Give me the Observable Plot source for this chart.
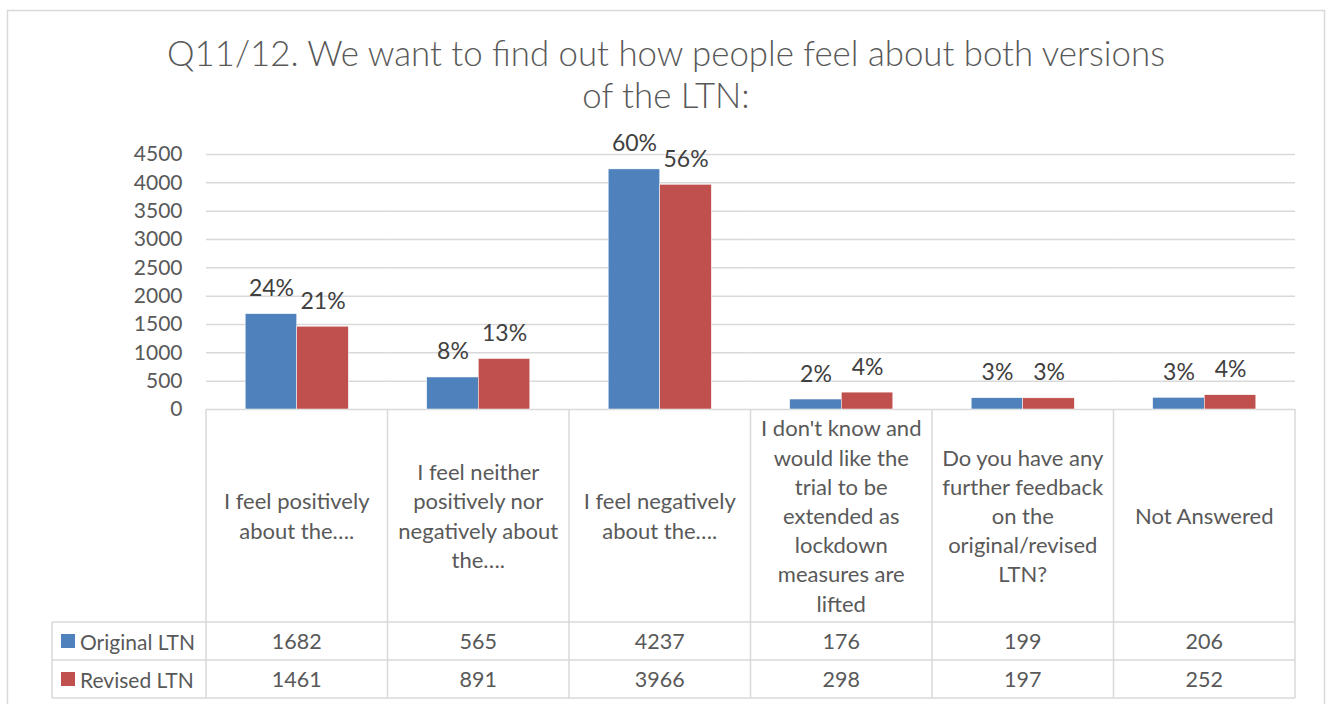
<!DOCTYPE html>
<html><head><meta charset="utf-8">
<script src="https://cdn.jsdelivr.net/npm/d3@7"></script>
<script src="https://cdn.jsdelivr.net/npm/@observablehq/plot@0.6"></script>
<style>
body{margin:0;background:#fff;}
#chart{position:relative;width:1327px;height:704px;}
</style></head><body><div id="chart"></div>
<script>
const titleLines = ["Q11/12. We want to find out how people feel about both versions", "of the LTN:"];
const categories = [
  "I feel positively about the….",
  "I feel neither positively nor negatively about the….",
  "I feel negatively about the….",
  "I don't know and would like the trial to be extended as lockdown measures are lifted",
  "Do you have any further feedback on the original/revised LTN?",
  "Not Answered"
];
const categoryLines = [
  ["I feel positively", "about the…."],
  ["I feel neither", "positively nor", "negatively about", "the…."],
  ["I feel negatively", "about the…."],
  ["I don't know and", "would like the", "trial to be", "extended as", "lockdown", "measures are", "lifted"],
  ["Do you have any", "further feedback", "on the", "original/revised", "LTN?"],
  ["Not Answered"]
];
const series = ["Original LTN", "Revised LTN"];
const originalValues = [1682, 565, 4237, 176, 199, 206];
const revisedValues = [1461, 891, 3966, 298, 197, 252];
const originalPct = ["24%", "8%", "60%", "2%", "3%", "3%"];
const revisedPct = ["21%", "13%", "56%", "4%", "3%", "4%"];
const yTicks = [0, 500, 1000, 1500, 2000, 2500, 3000, 3500, 4000, 4500];
const colors = ["#4F81BD", "#C0504D"];

const data = [];
categories.forEach((c, i) => {
  data.push({category: c, series: series[0], value: originalValues[i], pct: originalPct[i]});
  data.push({category: c, series: series[1], value: revisedValues[i], pct: revisedPct[i]});
});

const FONT = "Lato";
const TXT = "#595959";
const GRID = "#d9d9d9";

const plot = Plot.plot({
  width: 1327, height: 704,
  marginLeft: 206, marginRight: 32, marginTop: 154, marginBottom: 295,
  style: {fontFamily: FONT, background: "transparent", color: TXT},
  fx: {domain: categories, padding: 0, round: false, axis: null, label: null},
  x: {domain: series, paddingInner: 0, paddingOuter: 0.76, round: false, axis: null, label: null},
  y: {domain: [0, 4500], axis: null},
  color: {domain: series, range: colors},
  marks: [
    Plot.ruleY(yTicks, {stroke: GRID, strokeWidth: 1.5, strokeOpacity: 1}),
    Plot.barY(data, {fx: "category", x: "series", y: "value", fill: "series", stroke: "#ffffff", strokeWidth: 0.5}),
    Plot.text(data, {fx: "category", x: "series", y: "value", text: "pct", lineAnchor: "bottom", dy: -18, fontSize: 23, fill: "#404040"}),
    Plot.axisY({ticks: yTicks, tickSize: 0, tickPadding: 24, fontSize: 21, fill: TXT, label: null, tickFormat: d => String(d)})
  ]
});

const svg = d3.select(plot);
const fx = plot.scale("fx");
const y = plot.scale("y");
const bw = fx.bandwidth;
const x1 = fx.apply(categories[categories.length - 1]) + bw;
const yTop = y.apply(0);
const headerBottom = 622, row1Bottom = 660, row2Bottom = 698;
const legendLeft = 52;

const g = svg.append("g").attr("font-family", FONT).attr("fill", TXT).attr("text-anchor", "start");
// outer border
g.append("rect").attr("x", 7.5).attr("y", 10.5).attr("width", 1317).attr("height", 710)
  .attr("fill", "none").attr("stroke", GRID).attr("stroke-width", 1.5);
// title
titleLines.forEach((t, i) => {
  g.append("text").attr("x", 666).attr("y", 66 + i * 42).attr("text-anchor", "middle")
    .attr("font-size", 34.8).attr("font-weight", 300).attr("fill", TXT).text(t);
});
// table lines
const lines = g.append("g").attr("stroke", GRID).attr("stroke-width", 1.5);
[headerBottom, row1Bottom, row2Bottom].forEach(yy => {
  lines.append("line").attr("x1", legendLeft).attr("x2", x1).attr("y1", yy).attr("y2", yy);
});
lines.append("line").attr("x1", legendLeft).attr("x2", legendLeft).attr("y1", headerBottom).attr("y2", row2Bottom);
categories.forEach((c) => {
  const xx = fx.apply(c);
  lines.append("line").attr("x1", xx).attr("x2", xx).attr("y1", yTop).attr("y2", row2Bottom);
});
lines.append("line").attr("x1", x1).attr("x2", x1).attr("y1", yTop).attr("y2", row2Bottom);

// header text
const headerCenter = (yTop + headerBottom) / 2;
const lh = 29.2;
categories.forEach((c, i) => {
  const cx = fx.apply(c) + bw / 2;
  const ls = categoryLines[i];
  ls.forEach((l, j) => {
    g.append("text").attr("x", cx).attr("y", headerCenter + (j - (ls.length - 1) / 2) * lh)
      .attr("text-anchor", "middle").attr("dominant-baseline", "central")
      .attr("font-size", 22).text(l);
  });
});
// rows
const rows = [originalValues, revisedValues];
const rowCenters = [(headerBottom + row1Bottom) / 2, (row1Bottom + row2Bottom) / 2];
rows.forEach((vals, r) => {
  g.append("rect").attr("x", 61).attr("y", rowCenters[r] - 7).attr("width", 14).attr("height", 14)
    .attr("fill", colors[r]);
  g.append("text").attr("x", 80).attr("y", rowCenters[r]).attr("text-anchor", "start")
    .attr("dominant-baseline", "central").attr("font-size", 21).text(series[r]);
  vals.forEach((v, i) => {
    g.append("text").attr("x", fx.apply(categories[i]) + bw / 2).attr("y", rowCenters[r])
      .attr("text-anchor", "middle").attr("dominant-baseline", "central")
      .attr("font-size", 21.5).text(String(v));
  });
});

document.getElementById("chart").appendChild(plot);
</script>
</body></html>
